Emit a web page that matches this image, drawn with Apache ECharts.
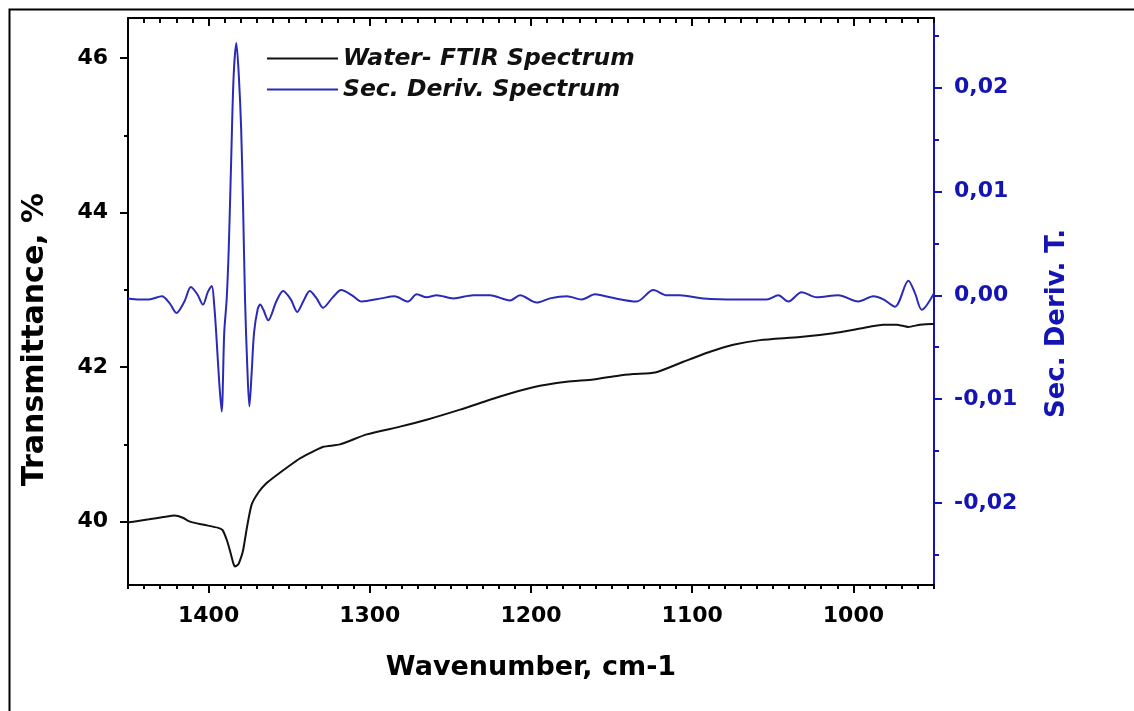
<!DOCTYPE html>
<html>
<head>
	<meta charset="utf-8"/>
	<title>Water FTIR Spectrum</title>
	<style>
		* { padding: 0px; margin: 0px; }
		body { background: #fff; }
		#chart { width: 1134px; height: 711px; }
	</style>
</head>
<body>
	<div id="chart"></div>
	<script type="text/javascript" src="https://cdn.jsdelivr.net/npm/echarts/dist/echarts.min.js"></script>
	<script>
		// FTIR transmittance (black curve)
		const ftirWave = [1450, 1446.7, 1437, 1428, 1421, 1416, 1411.5, 1403, 1394, 1391.3, 1388.5, 1386.7, 1384.5, 1383.6, 1381.5, 1379.5, 1378.5, 1376, 1373.3, 1369, 1364, 1356, 1347.5, 1343.3, 1335, 1328.8, 1318.5, 1301.9, 1281.3, 1264.7, 1244, 1219.2, 1198.6, 1177.9, 1161.3, 1145.8, 1136.5, 1123, 1105.5, 1088.9, 1074.5, 1057.9, 1033.1, 1012.5, 995.8, 981.4, 973.1, 965.9, 958.7, 951.4, 950];
		const ftirT = [39.99, 40.00, 40.03, 40.06, 40.08, 40.05, 40.00, 39.96, 39.92, 39.89, 39.75, 39.62, 39.45, 39.42, 39.45, 39.56, 39.64, 39.95, 40.22, 40.38, 40.50, 40.63, 40.76, 40.82, 40.91, 40.97, 41.00, 41.13, 41.23, 41.32, 41.45, 41.62, 41.74, 41.81, 41.84, 41.89, 41.91, 41.93, 42.07, 42.20, 42.29, 42.35, 42.39, 42.44, 42.50, 42.55, 42.55, 42.52, 42.55, 42.56, 42.56];

		// second derivative (blue curve)
		const derivWave = [1450, 1443, 1437, 1429, 1424, 1420, 1415, 1411, 1407, 1403.5, 1400.5, 1398, 1396.5, 1395.3, 1393.4, 1391.9, 1390.3, 1388.8, 1387.5, 1386, 1384.5, 1382.8, 1381.2, 1379.8, 1378.6, 1377.4, 1376, 1374.7, 1373.3, 1371.8, 1369.5, 1368, 1366, 1363, 1358, 1353.8, 1349, 1345, 1341, 1337.3, 1333, 1329, 1323, 1317.7, 1311, 1305, 1293, 1284.6, 1276.3, 1270.9, 1264.7, 1258.5, 1248.2, 1235.8, 1225.4, 1213, 1206.8, 1196.5, 1188.2, 1177.8, 1168.5, 1160.3, 1151, 1134.4, 1124.1, 1115.8, 1107.6, 1093.1, 1072.4, 1053.8, 1046.6, 1040.4, 1032.1, 1022.8, 1009.4, 997, 987.6, 981.4, 974.2, 965.9, 961.8, 957.6, 950];
		const derivVal = [-0.0003, -0.0004, -0.0004, -0.0001, -0.0008, -0.0017, -0.0006, 0.0008, 0.0001, -0.0009, 0.0003, 0.0009, -0.0010, -0.0036, -0.0084, -0.0112, -0.0036, -0.0004, 0.0045, 0.0130, 0.0210, 0.0243, 0.0210, 0.0160, 0.0085, -0.0004, -0.0069, -0.0107, -0.0075, -0.0036, -0.0013, -0.0009, -0.0014, -0.0024, -0.0006, 0.0004, -0.0004, -0.0016, -0.0005, 0.0004, -0.0003, -0.0012, -0.0002, 0.0005, 0.0000, -0.0006, -0.0003, -0.0001, -0.0006, 0.0001, -0.0002, 0.0000, -0.0003, 0.0000, 0.0000, -0.0005, 0.0000, -0.0007, -0.0003, -0.0001, -0.0004, 0.0001, -0.0002, -0.0006, 0.0005, 0.0000, 0.0000, -0.0003, -0.0004, -0.0004, 0.0000, -0.0006, 0.0003, -0.0002, 0.0000, -0.0006, -0.0001, -0.0004, -0.0011, 0.0014, 0.0002, -0.0014, 0.0002];

		// ticks
		const xMajor = [1000, 1100, 1200, 1300, 1400];
		const xMinor = [];
		for (let v = 950; v <= 1450; v += 10) if (v % 100 !== 0) xMinor.push(v);
		const tMajor = [40, 42, 44, 46];
		const tMinor = [41, 43, 45];
		const dMajor = [-0.02, -0.01, 0, 0.01, 0.02];
		const dMinor = [-0.025, -0.015, -0.005, 0.005, 0.015, 0.025];

		const FONT = 'DejaVu Sans';
		const BLUE = '#1414b4';
		const LINE_BLUE = '#2a2ab8';

		function zip(a, b) {
			let out = [];
			for (let i = 0; i < a.length; ++i) out.push([a[i], b[i]]);
			return out;
		}

		function xAx(pos, ticks, len, inside, showLine, showLabel) {
			return {
				type: 'value', position: pos, min: 950, max: 1450, inverse: true,
				axisLine: { show: showLine, onZero: false, lineStyle: { color: '#000', width: 2 } },
				axisTick: { show: true, inside: inside, length: len, customValues: ticks, lineStyle: { color: '#000', width: 2 } },
				axisLabel: showLabel ? { customValues: ticks, margin: 20, color: '#000', fontFamily: FONT, fontWeight: 'bold', fontSize: 22, formatter: v => String(v) } : { show: false },
				splitLine: { show: false }
			};
		}

		function yAx(pos, min, max, ticks, len, color, showLine, labelFmt) {
			return {
				type: 'value', position: pos, min: min, max: max,
				axisLine: { show: showLine, onZero: false, lineStyle: { color: color, width: 2 } },
				axisTick: { show: true, length: len, customValues: ticks, lineStyle: { color: color, width: 2 } },
				axisLabel: labelFmt ? { customValues: ticks, margin: 20, color: color, fontFamily: FONT, fontWeight: 'bold', fontSize: 22, formatter: labelFmt } : { show: false },
				splitLine: { show: false }
			};
		}

		let xBottom = xAx('bottom', xMajor, 8, false, true, true);
		xBottom.name = 'Wavenumber, cm-1';
		xBottom.nameLocation = 'middle';
		xBottom.nameGap = 69;
		xBottom.nameTextStyle = { fontFamily: FONT, fontWeight: 'bold', fontSize: 27, color: '#000' };

		let yLeft = yAx('left', 39.18, 46.52, tMajor, 8, '#000', true, v => String(v));
		yLeft.name = 'Transmittance, %';
		yLeft.nameLocation = 'middle';
		yLeft.nameRotate = 90;
		yLeft.nameGap = 78;
		yLeft.nameTextStyle = { fontFamily: FONT, fontWeight: 'bold', fontSize: 30, color: '#000', padding: [0, 76, 0, 0] };

		let yRight = yAx('right', -0.0279, 0.0267, dMajor, 8, BLUE, true, v => v.toFixed(2).replace('.', ','));
		yRight.name = 'Sec. Deriv. T.';
		yRight.nameLocation = 'middle';
		yRight.nameRotate = 90;
		yRight.nameGap = 110;
		yRight.nameTextStyle = { fontFamily: FONT, fontWeight: 'bold', fontSize: 26, color: BLUE, padding: [0, 44, 0, 0] };

		let myChart = echarts.init(document.getElementById('chart'));
		let option = {
			animation: false,
			backgroundColor: '#fff',
			graphic: [{
				type: 'rect', left: 7, top: 7, silent: true,
				shape: { width: 1200, height: 800 },
				style: { fill: 'none', stroke: '#000', lineWidth: 2 }
			}],
			grid: { left: 128, right: 200, top: 18, bottom: 126 },
			legend: {
				orient: 'vertical', left: 262, top: 42,
				icon: 'rect', itemWidth: 71, itemHeight: 2, itemGap: 8,
				textStyle: { fontFamily: FONT, fontWeight: 'bold', fontStyle: 'italic', fontSize: 23.5, color: '#111' },
				data: ['Water- FTIR Spectrum', 'Sec. Deriv. Spectrum']
			},
			xAxis: [
				xBottom,
				xAx('bottom', xMinor, 4, false, false, false),
				xAx('top', xMajor, 8, true, true, false),
				xAx('top', xMinor, 5, true, false, false)
			],
			yAxis: [
				yLeft,
				yAx('left', 39.18, 46.52, tMinor, 4, '#000', false, null),
				yRight,
				yAx('right', -0.0279, 0.0267, dMinor, 5, BLUE, false, null)
			],
			series: [
				{
					name: 'Water- FTIR Spectrum', type: 'line', xAxisIndex: 0, yAxisIndex: 0,
					symbol: 'none', smooth: 0.2,
					lineStyle: { color: '#111', width: 2 }, itemStyle: { color: '#111' },
					data: zip(ftirWave, ftirT)
				},
				{
					name: 'Sec. Deriv. Spectrum', type: 'line', xAxisIndex: 0, yAxisIndex: 2,
					symbol: 'none', smooth: 0.3,
					lineStyle: { color: LINE_BLUE, width: 2 }, itemStyle: { color: LINE_BLUE },
					data: zip(derivWave, derivVal)
				}
			]
		};
		myChart.setOption(option, true);
	</script>
</body>
</html>
